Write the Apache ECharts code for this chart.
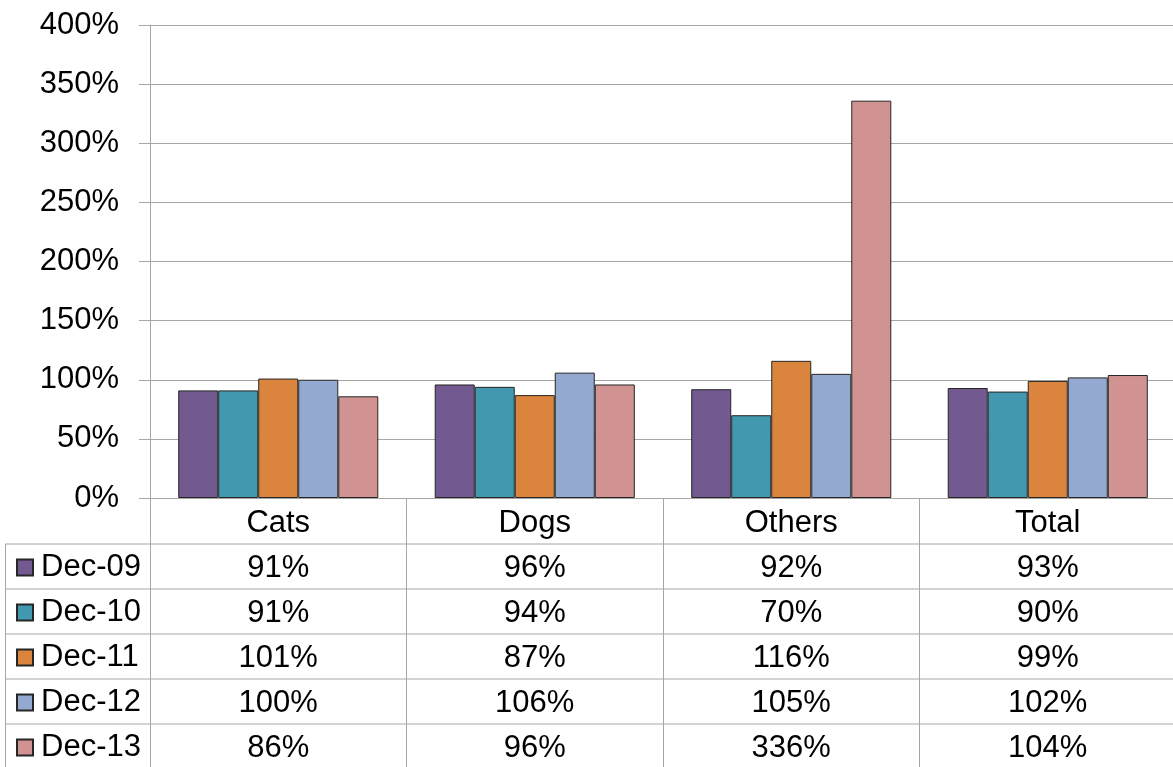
<!DOCTYPE html>
<html>
<head>
<meta charset="utf-8">
<script src="https://cdn.jsdelivr.net/npm/echarts@6/dist/echarts.min.js"></script>
<style>
  html, body { margin: 0; padding: 0; background: #fff; }
  #chart { width: 1173px; height: 767px; }
</style>
</head>
<body>
<div id="chart"></div>
<script>
// chart data
const categories = ['Cats', 'Dogs', 'Others', 'Total'];
const seriesNames = ['Dec-09', 'Dec-10', 'Dec-11', 'Dec-12', 'Dec-13'];
const dec09 = [91, 96, 92, 93];
const dec10 = [91, 94, 70, 90];
const dec11 = [101, 87, 116, 99];
const dec12 = [100, 106, 105, 102];
const dec13 = [86, 96, 336, 104];
const colors = ['#725990', '#4198AF', '#DB843D', '#93A9CF', '#D19392'];

const allValues = [dec09, dec10, dec11, dec12, dec13];
const fontFamily = 'Liberation Sans, Arial, sans-serif';
const gridColor = '#a6a6a6';
const rowH = 45;

const myChart = echarts.init(document.getElementById('chart'));

myChart.setOption({
    animation: false,
    grid: {
        left: 150,
        top: 25,
        width: 1026,
        height: 473,
        outerBoundsMode: 'none',
    },
    legend: {
        orient: 'vertical',
        left: 16,
        top: 545,
        height: 260,
        padding: 0,
        itemWidth: 16,
        itemHeight: 16,
        itemGap: 0,
        icon: 'rect',
        selectedMode: false,
        textStyle: {
            fontFamily: fontFamily,
            fontSize: 31,
            color: '#000',
            lineHeight: rowH,
            padding: [0, 0, 0, 3],
        },
        data: seriesNames,
    },
    xAxis: {
        type: 'category',
        data: categories,
        axisLine: { lineStyle: { color: gridColor } },
        axisTick: {
            show: true,
            length: 270,
            lineStyle: { color: gridColor },
        },
        axisLabel: {
            interval: 0,
            margin: 3,
            fontFamily: fontFamily,
            fontSize: 31,
            color: '#000',
            lineHeight: rowH,
            verticalAlign: 'top',
            formatter: function (value, idx) {
                return [value].concat(allValues.map(s => s[idx] + '%')).join('\n');
            },
        },
    },
    yAxis: {
        type: 'value',
        min: 0,
        max: 400,
        interval: 50,
        axisLine: { show: true, lineStyle: { color: gridColor } },
        axisTick: { show: true, length: 11, lineStyle: { color: gridColor } },
        axisLabel: {
            margin: 31,
            fontFamily: fontFamily,
            fontSize: 31,
            color: '#000',
            formatter: '{value}%',
        },
        splitLine: { lineStyle: { color: gridColor } },
    },
    series: seriesNames.map((name, i) => ({
        name: name,
        type: 'bar',
        data: allValues[i],
        barGap: 0,
        barCategoryGap: '22%',
        itemStyle: {
            color: colors[i],
            borderColor: '#262626',
            borderWidth: 1,
        },
    })),
});

// table row lines under the axis
const baseY = myChart.convertToPixel({ yAxisIndex: 0 }, 0);
const firstRow = baseY + 46;
const lines = [];
for (let i = 0; i < seriesNames.length; i++) {
    lines.push({
        type: 'line',
        shape: { x1: 5, y1: firstRow + i * rowH, x2: 1173, y2: firstRow + i * rowH },
        style: { stroke: gridColor, lineWidth: 1 },
        silent: true,
    });
}
lines.push({
    type: 'line',
    shape: { x1: 5.5, y1: firstRow, x2: 5.5, y2: 767 },
    style: { stroke: gridColor, lineWidth: 1 },
    silent: true,
});
myChart.setOption({ graphic: lines });
</script>
</body>
</html>
